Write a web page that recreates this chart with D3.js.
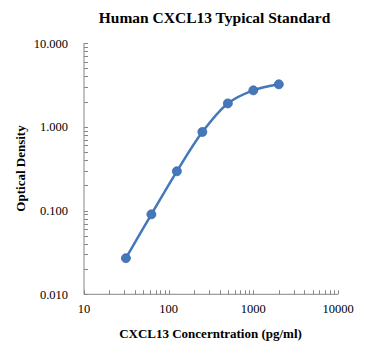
<!DOCTYPE html>
<html><head><meta charset="utf-8">
<script src="https://cdn.jsdelivr.net/npm/d3@7"></script>
<style>body{margin:0;background:#fff}svg{display:block}text{font-family:"Liberation Serif","Times New Roman",Times,serif}</style>
</head><body>
<svg id="c" width="368" height="351"></svg>
<script>
const concentrations = [31.25, 62.5, 125, 250, 500, 1000, 2000];
const odValues = [0.027, 0.090, 0.294, 0.867, 1.90, 2.72, 3.21];
const xTickValues = [10, 100, 1000, 10000];
const xTickLabels = ["10", "100", "1000", "10000"];
const yTickValues = [0.01, 0.1, 1, 10];
const yTickLabels = ["0.010", "0.100", "1.000", "10.000"];
const titleText = "Human CXCL13 Typical Standard";
const xTitle = "CXCL13 Concerntration (pg/ml)";
const yTitle = "Optical Density";

const svg = d3.select("#c");
const axisColor = "#868686";
const blue = "#4577bb";

const x = d3.scaleLog().domain([10, 10000]).range([84, 338]);
const y = d3.scaleLog().domain([0.01, 10]).range([294.3, 43]);

function minorTicks(domain){
  const out=[];
  for(let d=domain[0]; d<domain[1]; d*=10){
    for(let k=1;k<10;k++){ out.push(+(d*k).toPrecision(6)); }
  }
  out.push(domain[1]);
  return out;
}
const g = svg.append("g");
g.append("line").attr("x1",x(10)).attr("x2",x(10)).attr("y1",y(10)).attr("y2",y(0.01))
 .attr("stroke",axisColor).attr("stroke-width",1);
g.selectAll(".ym").data(minorTicks([0.01,10])).enter().append("line")
 .attr("x1",x(10)).attr("x2",x(10)+4).attr("y1",d=>Math.round(y(d))+0.5).attr("y2",d=>Math.round(y(d))+0.5)
 .attr("stroke",axisColor).attr("stroke-width",1);
g.append("line").attr("x1",x(10)).attr("x2",x(10000)).attr("y1",y(0.01)).attr("y2",y(0.01))
 .attr("stroke",axisColor).attr("stroke-width",1);
g.selectAll(".xm").data(minorTicks([10,10000])).enter().append("line")
 .attr("x1",d=>Math.round(x(d))+0.5).attr("x2",d=>Math.round(x(d))+0.5).attr("y1",y(0.01)).attr("y2",y(0.01)-4)
 .attr("stroke",axisColor).attr("stroke-width",1);

svg.selectAll(".yl").data(yTickValues).enter().append("text")
 .attr("x",68).attr("y",d=>y(d)+4.5).attr("text-anchor","end")
 .style("font-size","12.5px").attr("fill","#000")
 .text((d,i)=>yTickLabels[i]);
svg.selectAll(".xl").data(xTickValues).enter().append("text")
 .attr("x",d=>x(d)).attr("y",313).attr("text-anchor","middle")
 .style("font-size","12.5px").attr("fill","#000")
 .text((d,i)=>xTickLabels[i]);

svg.append("text").attr("x",214.5).attr("y",22.5).attr("text-anchor","middle")
 .style("font-size","15.5px").style("font-weight","bold").text(titleText);
svg.append("text").attr("x",210.5).attr("y",338).attr("text-anchor","middle")
 .style("font-size","13px").style("font-weight","bold").text(xTitle);
svg.append("text").attr("transform","translate(24.5,168.5) rotate(-90)").attr("text-anchor","middle")
 .style("font-size","13px").style("font-weight","bold").text(yTitle);

const pts = concentrations.map((c,i)=>[x(c), y(odValues[i])]);
svg.append("path").attr("d", d3.line().curve(d3.curveCatmullRom.alpha(0.5))(pts))
 .attr("fill","none").attr("stroke",blue).attr("stroke-width",2.5).attr("stroke-linecap","round");
svg.selectAll(".pt").data(concentrations).enter().append("circle")
 .attr("cx",d=>x(d)).attr("cy",(d,i)=>y(odValues[i])).attr("r",4.5)
 .attr("fill",blue).attr("stroke","#3a6aa8").attr("stroke-width",0.8);
</script>
</body></html>
